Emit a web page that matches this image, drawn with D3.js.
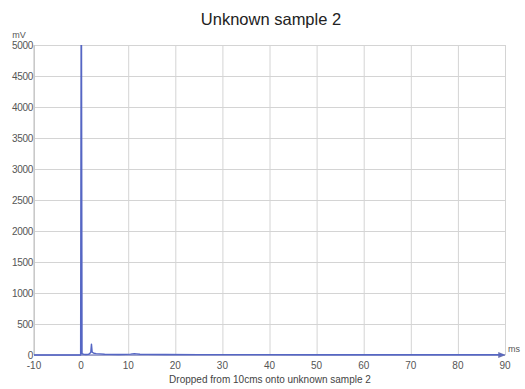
<!DOCTYPE html>
<html>
<head>
<meta charset="utf-8">
<script src="https://cdn.jsdelivr.net/npm/d3@7"></script>
<style>
  body { margin: 0; background: #fff; }
  svg { display: block; font-family: "Liberation Sans", Arial, sans-serif; }
</style>
</head>
<body>
<svg id="chart" width="525" height="389"></svg>
<script>
// Drop-test trace: time (ms) and sensor output (mV)
const timeMs = [-10, -5, -1, -0.1, 0, 0.08, 0.2, 0.6, 1, 1.6, 2.05, 2.2, 2.35, 2.7, 3.2, 4, 5, 6, 8, 9.5, 10.5, 11.3, 11.8, 12.5, 14, 18, 25, 35, 50, 65, 80, 89.6];
const signalMv = [0, 0, 0, 0, 5000, 5000, 20, 10, 8, 10, 40, 175, 45, 28, 22, 18, 12, 10, 8, 10, 14, 22, 18, 12, 10, 8, 6, 6, 5, 5, 5, 5];
const xTicks = [-10, 0, 10, 20, 30, 40, 50, 60, 70, 80, 90];
const yTicks = [0, 500, 1000, 1500, 2000, 2500, 3000, 3500, 4000, 4500, 5000];

const svg = d3.select("#chart");
const plotL = 34, plotR = 505, plotT = 45, plotB = 355;

const x = d3.scaleLinear().domain([-10, 90]).range([plotL, plotR]);
const y = d3.scaleLinear().domain([0, 5000]).range([plotB, plotT]);

// grid
svg.append("g")
  .attr("transform", `translate(0,${plotB})`)
  .call(d3.axisBottom(x).tickValues(xTicks).tickSize(-(plotB - plotT)).tickFormat(""))
  .call(g => g.select(".domain").remove())
  .call(g => g.selectAll("line").attr("stroke", "#d4d4d4"));

svg.append("g")
  .attr("transform", `translate(${plotL},0)`)
  .call(d3.axisLeft(y).tickValues(yTicks).tickSize(-(plotR - plotL)).tickFormat(""))
  .call(g => g.select(".domain").remove())
  .call(g => g.selectAll("line").attr("stroke", "#d4d4d4"));

// left axis line
svg.append("line").attr("x1", plotL).attr("x2", plotL).attr("y1", plotT).attr("y2", plotB)
  .attr("stroke", "#bdbdbd");

// tick labels
svg.append("g").selectAll("text").data(yTicks).join("text")
  .attr("x", plotL - 1).attr("y", d => y(d) + 3.5)
  .attr("text-anchor", "end").attr("font-size", 10).attr("fill", "#555")
  .attr("letter-spacing", -0.3)
  .text(d => d);

svg.append("g").selectAll("text").data(xTicks).join("text")
  .attr("x", d => x(d)).attr("y", plotB + 14)
  .attr("text-anchor", "middle").attr("font-size", 10).attr("fill", "#555")
  .text(d => d);

// units
svg.append("text").attr("x", 19).attr("y", 38).attr("font-size", 9)
  .attr("fill", "#555").attr("text-anchor", "middle").text("mV");
svg.append("text").attr("x", 508).attr("y", 352).attr("font-size", 9)
  .attr("fill", "#555").text("ms");

// x axis with arrow
svg.append("defs").append("marker")
  .attr("id", "arrow").attr("viewBox", "0 0 10 10").attr("refX", 9).attr("refY", 5)
  .attr("markerWidth", 5).attr("markerHeight", 5).attr("orient", "auto")
  .append("path").attr("d", "M0,1 L10,5 L0,9 Z").attr("fill", "#6a72b0");
svg.append("line").attr("x1", plotL).attr("x2", plotR).attr("y1", plotB).attr("y2", plotB)
  .attr("stroke", "#8c93c8").attr("stroke-width", 1.5).attr("marker-end", "url(#arrow)");

// signal trace, clipped to the plot area
svg.append("clipPath").attr("id", "plot")
  .append("rect").attr("x", plotL).attr("y", plotT).attr("width", plotR - plotL).attr("height", plotB - plotT + 2);

const line = d3.line().x((d, i) => x(timeMs[i])).y(d => y(d));
svg.append("path")
  .datum(signalMv)
  .attr("clip-path", "url(#plot)")
  .attr("fill", "none")
  .attr("stroke", "#5566c4")
  .attr("stroke-width", 1.4)
  .attr("stroke-linejoin", "round")
  .attr("d", line);

// titles
svg.append("text").attr("x", 271).attr("y", 25).attr("text-anchor", "middle")
  .attr("font-size", 16.5).attr("fill", "#222").text("Unknown sample 2");
svg.append("text").attr("x", 270).attr("y", 383).attr("text-anchor", "middle")
  .attr("font-size", 10).attr("fill", "#444").text("Dropped from 10cms onto unknown sample 2");
</script>
</body>
</html>
